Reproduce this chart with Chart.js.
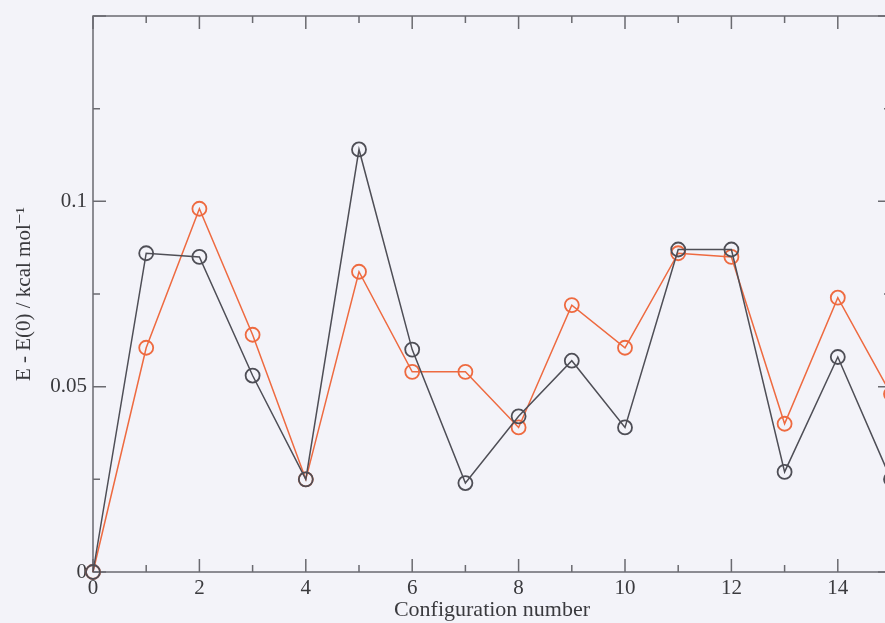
<!DOCTYPE html>
<html>
<head>
<meta charset="utf-8">
<script src="https://cdn.jsdelivr.net/npm/chart.js@4.4.0/dist/chart.umd.min.js"></script>
<style>
  html, body { margin: 0; padding: 0; overflow: hidden; background: #f3f3f9; }
  #chart { display: block; }
</style>
</head>
<body>
<canvas id="chart" width="905" height="623"></canvas>
<script>
// configuration numbers and the two energy curves (kcal/mol)
const configs = [0, 1, 2, 3, 4, 5, 6, 7, 8, 9, 10, 11, 12, 13, 14, 15];
const blackSeries = [0, 0.086, 0.085, 0.053, 0.025, 0.114, 0.060, 0.024, 0.042, 0.057, 0.039, 0.087, 0.087, 0.027, 0.058, 0.025];
const orangeSeries = [0, 0.0605, 0.098, 0.064, 0.025, 0.081, 0.054, 0.054, 0.039, 0.072, 0.0605, 0.086, 0.085, 0.040, 0.074, 0.048];

const xTickLabels = [0, 2, 4, 6, 8, 10, 12, 14];
const yTickLabels = [0, 0.05, 0.1];

const axisColor = '#6a6a70';
const textColor = '#3a3a3e';
const serif = "'Liberation Serif', 'DejaVu Serif', serif";

// frame + inward ticks on all four sides
const framePlugin = {
    id: 'frame',
    beforeDatasetsDraw(chart) {
        const {ctx, chartArea: a, scales: {x, y}} = chart;
        ctx.save();
        ctx.strokeStyle = axisColor;
        ctx.lineWidth = 1.5;
        ctx.strokeRect(a.left, a.top, a.right - a.left, a.bottom - a.top);
        ctx.beginPath();
        for (let v = x.min; v <= x.max; v++) {
            const px = x.getPixelForValue(v);
            const len = v % 2 === 0 ? 13 : 7;
            ctx.moveTo(px, a.bottom); ctx.lineTo(px, a.bottom - len);
            ctx.moveTo(px, a.top); ctx.lineTo(px, a.top + len);
        }
        for (let i = 0; i <= 6; i++) {
            const py = y.getPixelForValue(i * 0.025);
            const len = i % 2 === 0 ? 13 : 7;
            ctx.moveTo(a.left, py); ctx.lineTo(a.left + len, py);
            ctx.moveTo(a.right, py); ctx.lineTo(a.right - len, py);
        }
        ctx.stroke();
        ctx.restore();
    }
};

const toPoints = arr => configs.map((c, i) => ({x: c, y: arr[i]}));

new Chart(document.querySelector('#chart').getContext('2d'), {
    type: 'line',
    data: {
        datasets: [
            {
                label: 'black',
                data: toPoints(blackSeries),
                borderColor: '#4e4e56',
                borderWidth: 1.5,
                pointRadius: 7,
                pointBorderWidth: 1.8,
                pointBackgroundColor: 'rgba(0,0,0,0)',
                pointBorderColor: '#4e4e56',
                clip: false
            },
            {
                label: 'orange',
                data: toPoints(orangeSeries),
                borderColor: '#ee6a40',
                borderWidth: 1.5,
                pointRadius: 7,
                pointBorderWidth: 1.8,
                pointBackgroundColor: 'rgba(0,0,0,0)',
                pointBorderColor: '#ee6a40',
                clip: false
            }
        ]
    },
    options: {
        responsive: false,
        animation: false,
        layout: { padding: { top: 16, right: 14, left: 0, bottom: 0 } },
        plugins: { legend: { display: false }, tooltip: { enabled: false } },
        scales: {
            x: {
                type: 'linear',
                min: 0,
                max: 15,
                grid: { display: false, drawTicks: false },
                border: { display: false },
                afterFit: s => { s.height = 51; s.paddingLeft = 0; s.paddingRight = 0; },
                ticks: {
                    stepSize: 1,
                    autoSkip: false,
                    maxRotation: 0,
                    padding: 4,
                    color: textColor,
                    font: { family: serif, size: 21 },
                    callback: v => xTickLabels.includes(v) ? String(v) : ''
                },
                title: {
                    display: true,
                    text: 'Configuration number',
                    color: textColor,
                    padding: 0,
                    font: { family: serif, size: 22 }
                }
            },
            y: {
                min: 0,
                max: 0.15,
                grid: { display: false, drawTicks: false },
                border: { display: false },
                afterFit: s => { s.width = 93; s.paddingTop = 0; s.paddingBottom = 0; },
                ticks: {
                    stepSize: 0.025,
                    padding: 6,
                    color: textColor,
                    font: { family: serif, size: 21 },
                    callback: v => {
                        const r = Number(v.toFixed(3));
                        return yTickLabels.includes(r) ? String(r) : '';
                    }
                },
                title: {
                    display: true,
                    text: 'E - E(0) / kcal mol\u207B\u00B9',
                    color: textColor,
                    padding: { top: 12, bottom: 0 },
                    font: { family: serif, size: 21 }
                }
            }
        }
    },
    plugins: [framePlugin]
});
</script>
</body>
</html>
